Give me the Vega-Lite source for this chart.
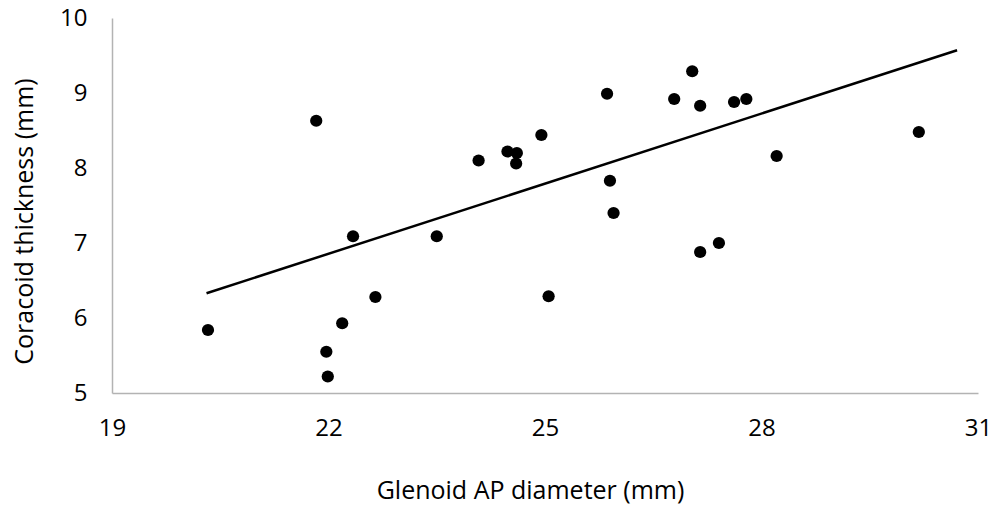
{
  "$schema": "https://vega.github.io/schema/vega-lite/v6.json",
  "width": 866,
  "height": 375,
  "autosize": {"type": "none"},
  "padding": {"left": 112, "top": 18, "right": 13, "bottom": 113},
  "background": "white",
  "config": {
    "view": {"stroke": null},
    "font": "Open Sans",
    "axis": {
      "grid": false,
      "ticks": false,
      "domainColor": "#b3b3b3",
      "domainWidth": 1.5,
      "labelFont": "Open Sans",
      "labelFontSize": 24,
      "labelColor": "#000000",
      "titleFont": "Open Sans",
      "titleFontSize": 25,
      "titleFontWeight": "normal",
      "titleColor": "#000000"
    }
  },
  "datasets": {
    "points": [
      {"glenoid": 20.33, "coracoid": 5.84},
      {"glenoid": 21.83, "coracoid": 8.63},
      {"glenoid": 21.97, "coracoid": 5.55},
      {"glenoid": 21.99, "coracoid": 5.22},
      {"glenoid": 22.19, "coracoid": 5.93},
      {"glenoid": 22.34, "coracoid": 7.09},
      {"glenoid": 22.65, "coracoid": 6.28},
      {"glenoid": 23.50, "coracoid": 7.09},
      {"glenoid": 24.08, "coracoid": 8.10},
      {"glenoid": 24.48, "coracoid": 8.22},
      {"glenoid": 24.61, "coracoid": 8.20},
      {"glenoid": 24.60, "coracoid": 8.06},
      {"glenoid": 24.95, "coracoid": 8.44},
      {"glenoid": 25.05, "coracoid": 6.29},
      {"glenoid": 25.86, "coracoid": 8.99},
      {"glenoid": 25.90, "coracoid": 7.83},
      {"glenoid": 25.95, "coracoid": 7.40},
      {"glenoid": 26.79, "coracoid": 8.92},
      {"glenoid": 27.04, "coracoid": 9.29},
      {"glenoid": 27.15, "coracoid": 8.83},
      {"glenoid": 27.15, "coracoid": 6.88},
      {"glenoid": 27.41, "coracoid": 7.00},
      {"glenoid": 27.62, "coracoid": 8.88},
      {"glenoid": 27.79, "coracoid": 8.92},
      {"glenoid": 28.21, "coracoid": 8.16},
      {"glenoid": 30.18, "coracoid": 8.48}
    ],
    "trend": [
      {"glenoid": 20.31, "coracoid": 6.33},
      {"glenoid": 30.71, "coracoid": 9.57}
    ]
  },
  "layer": [
    {
      "data": {"name": "trend"},
      "mark": {"type": "line", "color": "#000000", "strokeWidth": 2.5},
      "encoding": {
        "x": {"field": "glenoid", "type": "quantitative"},
        "y": {"field": "coracoid", "type": "quantitative"}
      }
    },
    {
      "data": {"name": "points"},
      "mark": {"type": "circle", "color": "#000000", "opacity": 1, "size": 150},
      "encoding": {
        "x": {
          "field": "glenoid",
          "type": "quantitative",
          "scale": {"domain": [19, 31], "nice": false, "zero": false},
          "axis": {"values": [19, 22, 25, 28, 31], "format": "d", "labelFlush": false, "title": "Glenoid AP diameter (mm)", "labelPadding": 23, "titlePadding": 38, "titleX": 418}
        },
        "y": {
          "field": "coracoid",
          "type": "quantitative",
          "scale": {"domain": [5, 10], "nice": false, "zero": false},
          "axis": {"values": [5, 6, 7, 8, 9, 10], "format": "d", "title": "Coracoid thickness (mm)", "labelPadding": 25, "titlePadding": 22, "titleY": 203}
        }
      }
    }
  ]
}
